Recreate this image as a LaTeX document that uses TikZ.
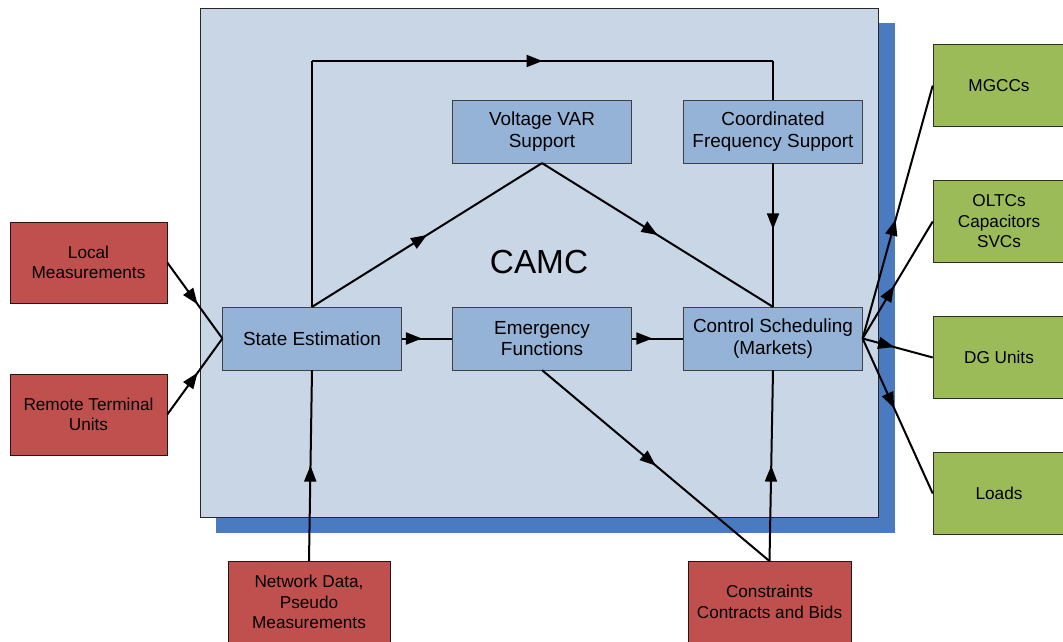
\documentclass[tikz,border=0pt]{standalone}
\usepackage{fontspec}
\setmainfont{Liberation Sans}
\usetikzlibrary{arrows.meta,decorations.markings}
\definecolor{CamcBack}{RGB}{200,214,230}
\definecolor{CamcShadow}{RGB}{74,123,193}
\definecolor{FuncBlue}{RGB}{149,179,215}
\definecolor{InRed}{RGB}{192,80,77}
\definecolor{OutGreen}{RGB}{155,187,89}
\tikzset{
  funcbox/.style={draw={rgb, 255:red, 64; green, 64; blue, 64},fill=FuncBlue,minimum width=134pt,minimum height=47pt,align=center,inner sep=0.75pt},
  inbox/.style={draw={rgb, 255:red, 40; green, 20; blue, 20},fill=InRed,align=center,inner sep=0.75pt,font=\fontsize{12.9}{15.4}\selectfont},
  outbox/.style={draw={rgb, 255:red, 40; green, 50; blue, 30},fill=OutGreen,minimum width=99pt,minimum height=61.5pt,align=center,inner sep=0.75pt,font=\fontsize{12.9}{15.4}\selectfont},
  flow/.style={line width=1.5pt,line join=round},
  marrow/.style={flow,postaction={decorate},decoration={markings,mark=at position #1 with {\arrow{Triangle[length=12pt,width=9pt]}}}},
  marrow/.default=0.5
}
\begin{document}
\begin{tikzpicture}[x=0.75pt,y=0.75pt,yscale=-1,xscale=1,font=\fontsize{14.2}{16}\selectfont]
\useasboundingbox (0,0) rectangle (1063,642);

%Shape: Rectangle [shadow of CAMC]
\fill [CamcShadow] (216,23) rectangle (895,533) ;
%Shape: Rectangle [CAMC]
\draw [draw={rgb, 255:red, 40; green, 40; blue, 40},fill=CamcBack] (200,8) rectangle (878,517) ;

% Text Node
\node (camc) at (539,262) [font=\fontsize{25}{30}\selectfont] {CAMC};

%Shape: Rectangle [functions]
\node (vvs) at (542,131.5) [funcbox] {Voltage VAR\\Support};
\node (cfs) at (773,131.5) [funcbox] {Coordinated\\Frequency Support};
\node (se) at (312,338.5) [funcbox] {State Estimation};
\node (ef) at (542,338.5) [funcbox] {Emergency\\Functions};
\node (cs) at (773,338.5) [funcbox] {Control Scheduling\\(Markets)};

%Shape: Rectangle [inputs]
\node (lm) at (88.5,262.5) [inbox,minimum width=117.75pt,minimum height=60.5pt] {Local\\Measurements};
\node (rtu) at (88.5,414.5) [inbox,minimum width=117.75pt,minimum height=60.5pt] {Remote Terminal\\Units};
\node (nd) at (309,602) [inbox,minimum width=121.5pt,minimum height=61pt] {Network Data,\\Pseudo\\Measurements};
\node (ccb) at (769.5,602) [inbox,minimum width=122.25pt,minimum height=61pt] {Constraints\\Contracts and Bids};

%Shape: Rectangle [outputs]
\node (mg) at (999,85.5) [outbox] {MGCCs};
\node (ol) at (999,221.5) [outbox] {OLTCs\\Capacitors\\SVCs};
\node (dg) at (999,357.5) [outbox] {DG Units};
\node (ld) at (999,493.5) [outbox] {Loads};

%Straight Lines [inputs]
\draw [marrow=0.55] (lm.east) -- (se.west) ;
\draw [marrow=0.55] (rtu.east) -- (se.west) ;
\draw [marrow] (nd.north) -- (se.south) ;
\draw [marrow] (ccb.north) -- (cs.south) ;

%Straight Lines [between functions]
\draw [marrow=0.4] (se.east) -- (ef.west) ;
\draw [marrow=0.4] (ef.east) -- (cs.west) ;
\draw [marrow] (se.north) -- (vvs.south) ;
\draw [marrow] (vvs.south) -- (cs.north) ;
\draw [marrow=0.46] (cfs.south) -- (cs.north) ;
\draw [marrow] (ef.south) -- (ccb.north) ;

%Straight Lines [loop over the top]
\coordinate (topl) at (312,61) ;
\coordinate (topr) at (773,61) ;
\draw [flow] (se.north) -- (topl) ;
\draw [marrow] (topl) -- (topr) ;
\draw [flow] (topr) -- (cfs.north) ;

%Straight Lines [outputs]
\draw [marrow=0.47] (cs.east) -- (mg.west) ;
\draw [marrow=0.45] (cs.east) -- (ol.west) ;
\draw [marrow=0.45] (cs.east) -- (dg.west) ;
\draw [marrow=0.45] (cs.east) -- (ld.west) ;

\end{tikzpicture}
\end{document}
